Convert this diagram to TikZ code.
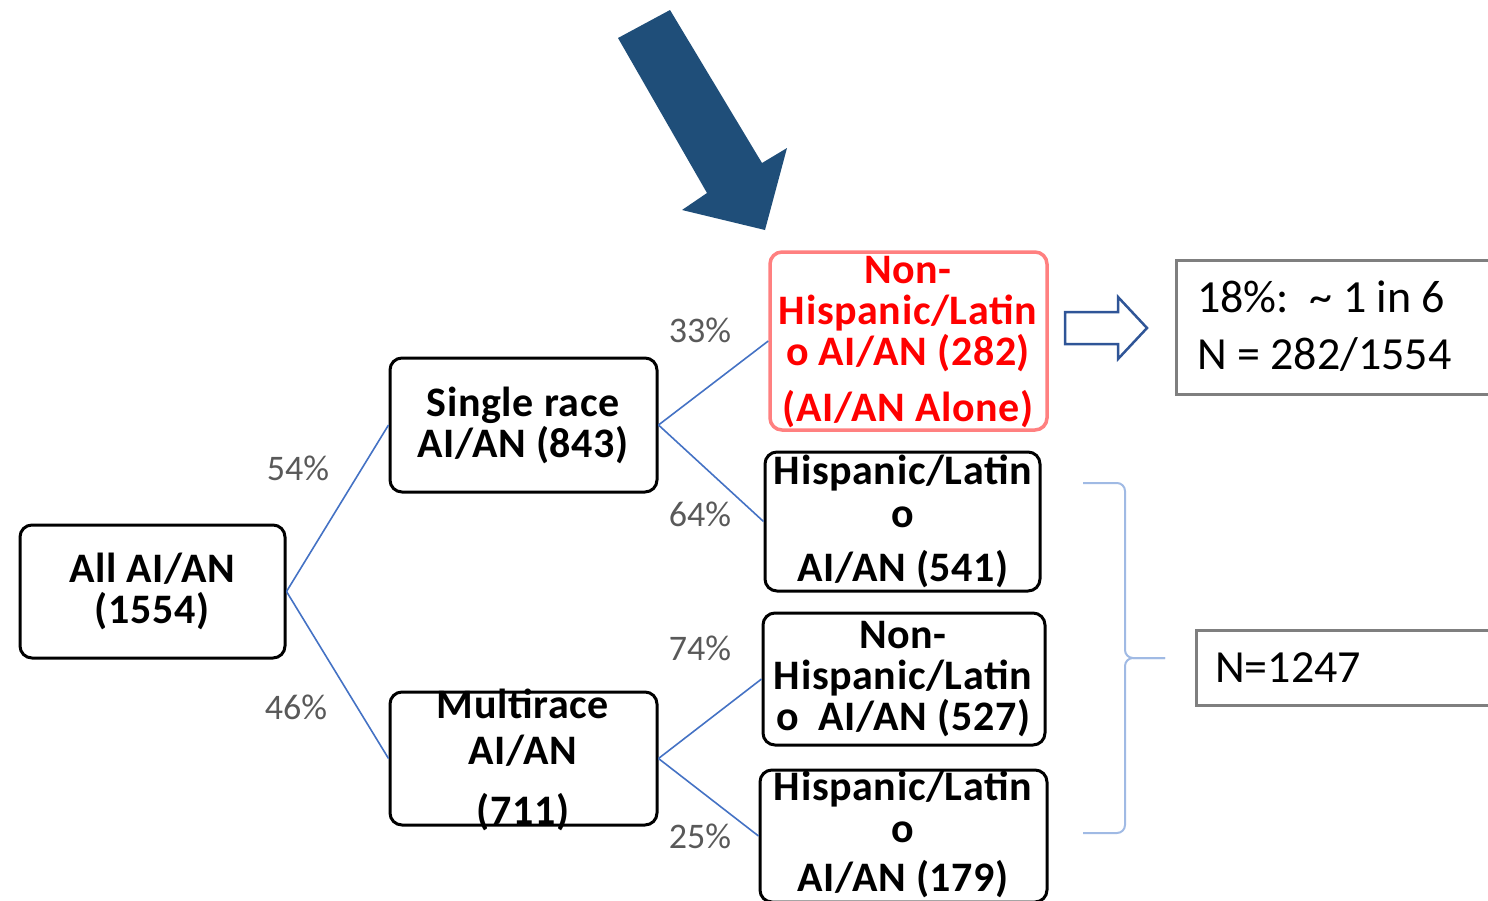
\documentclass[tikz,border=0pt]{standalone}
\usepackage{fontspec}
\setmainfont{Carlito}
\newfontfamily\boxfont{Carlito}[LetterSpace=1.5]
\usetikzlibrary{calc}

\definecolor{linkblue}{RGB}{68,114,196}
\definecolor{bracketblue}{RGB}{160,186,228}
\definecolor{arrowblue}{RGB}{31,78,121}
\definecolor{hollowblue}{RGB}{47,85,151}
\definecolor{pinkred}{RGB}{255,128,128}
\definecolor{pctgray}{RGB}{89,89,89}
\definecolor{boxgray}{RGB}{127,127,127}

\tikzset{
  box/.style={draw=black, line width=3pt, rounded corners=12pt, inner sep=0pt},
  btext/.style={font=\boxfont\fontsize{42}{41}\selectfont\bfseries, align=center, inner sep=0pt},
  pct/.style={font=\fontsize{36}{36}\selectfont, text=pctgray, inner sep=0pt},
  link/.style={draw=linkblue, line width=1.6pt},
  sumbox/.style={draw=boxgray, line width=3pt, inner sep=0pt},
  stext/.style={font=\fontsize{46}{57}\selectfont, align=left, anchor=west, inner sep=0pt},
}

\begin{document}
\begin{tikzpicture}[x=1pt, y=-1pt]
            \useasboundingbox (0,0) rectangle (1488,900);
            \clip (0,0) rectangle (1488,900);
            % Draw big pointing arrow
            \fill[arrowblue] (618,38) -- (670,10) -- (762,163) -- (787,148) -- (765,230) -- (682,210) -- (707,193) -- cycle;
            % Draw tree boxes
            \node[box, minimum width=265pt, minimum height=133pt] (all) at (152.5,591.5) {};
            \node[box, minimum width=267pt, minimum height=134pt] (single) at (523.5,425) {};
            \node[box, minimum width=267pt, minimum height=133pt] (multi) at (523.5,758.5) {};
            \node[box, draw=pinkred, line width=3.5pt, minimum width=277pt, minimum height=178pt] (alone) at (908.5,341) {};
            \node[box, minimum width=275pt, minimum height=139pt] (hispA) at (902.5,521.5) {};
            \node[box, minimum width=282pt, minimum height=132pt] (nonhispB) at (904,679) {};
            \node[box, minimum width=287pt, minimum height=132pt] (hispB) at (903.5,836) {};
            % Add box texts
            \node[btext] (allT) at (152,591) {All AI/AN\\(1554)};
            \node[btext] (singleT) at (523,425) {Single race\\AI/AN (843)};
            \node[btext] (multiT) at (523,760) {Multirace\\[5pt]AI/AN\\[19pt](711)};
            \node[btext, text=red] (aloneT) at (908,342) {Non-\\Hispanic/Latin\\o AI/AN (282)\\[15pt](AI/AN Alone)};
            \node[btext] (hispAT) at (903,521) {Hispanic/Latin\\[2pt]o\\[13pt]AI/AN (541)};
            \node[btext] (nonhispBT) at (903,679) {Non-\\Hispanic/Latin\\o\ \ AI/AN (527)};
            \node[btext] (hispBT) at (903,834) {Hispanic/Latin\\[1pt]o\\[8pt]AI/AN (179)};
            % Draw tree links
            \draw[link] (all.east) -- (single.west);
            \draw[link] (all.east) -- (multi.west);
            \draw[link] (single.east) -- (alone.west);
            \draw[link] (single.east) -- (hispA.west);
            \draw[link] (multi.east) -- (nonhispB.west);
            \draw[link] (multi.east) -- (hispB.west);
            % Add percentages
            \node[pct] (p54) at (298,468) {54\%};
            \node[pct] (p46) at (296,707) {46\%};
            \node[pct] (p33) at (700,330) {33\%};
            \node[pct] (p64) at (700,514) {64\%};
            \node[pct] (p74) at (700,648) {74\%};
            \node[pct] (p25) at (700,836) {25\%};
            % Draw hollow arrow
            \filldraw[draw=hollowblue, fill=white, line width=2.5pt, line join=miter]
              (1065,312) -- (1118,312) -- (1118,297) -- (1147,328) -- (1118,359) -- (1118,344) -- (1065,344) -- cycle;
            % Draw bracket
            \draw[bracketblue, line width=2pt, rounded corners=8pt] (1083,483) -- (1125,483) -- (1125,658) -- (1165,658);
            \draw[bracketblue, line width=2pt, rounded corners=8pt] (1165,658) -- (1125,658) -- (1125,833) -- (1083,833);
            % Add summary boxes
            \node[sumbox, minimum width=324pt, minimum height=134pt] (share) at (1338,327) {};
            \node[stext] (shareT) at (1197,326) {18\%:\ \ \textasciitilde{} 1 in 6\\N = 282/1554};
            \node[sumbox, minimum width=304pt, minimum height=75pt] (rest) at (1348,667.5) {};
            \node[stext] (restT) at (1215,668) {N=1247};
        \end{tikzpicture}
\end{document}
